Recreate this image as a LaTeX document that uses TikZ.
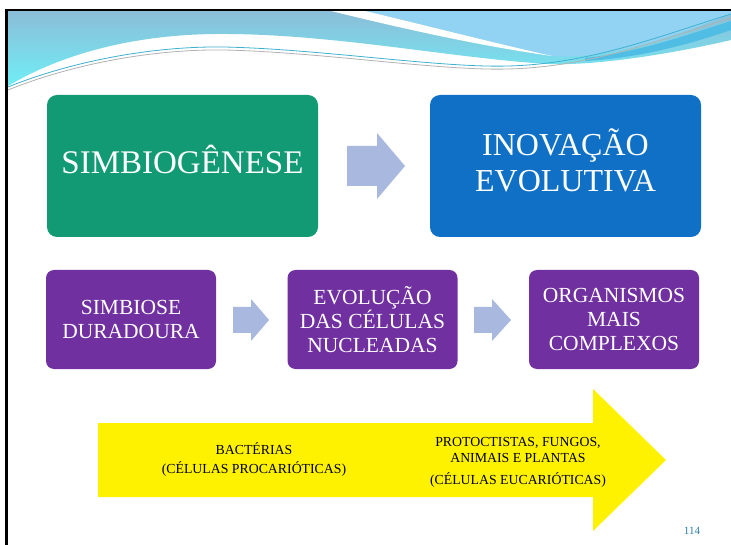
\documentclass[tikz,border=0pt]{standalone}
\usepackage{fontspec}
\setmainfont{Liberation Serif}
\definecolor{hdtop}{HTML}{8BBDD8}
\definecolor{hdbot}{HTML}{70EEF6}
\definecolor{hdlight}{HTML}{92D2F2}
\definecolor{hddark}{HTML}{4FBDE4}
\definecolor{boxgreen}{HTML}{119A73}
\definecolor{boxblue}{HTML}{1070C6}
\definecolor{boxpurple}{HTML}{7030A0}
\definecolor{arrowblue}{HTML}{A9B8DF}
\definecolor{pagenum}{HTML}{2E7FA8}
\begin{document}
\begin{tikzpicture}[x=1pt,y=-1pt,
  bigbox/.style={rounded corners=10pt, minimum width=271pt, minimum height=142pt,
    text=white, align=center, inner sep=0pt},
  smallbox/.style={rounded corners=8pt, fill=boxpurple, minimum width=170pt, minimum height=99pt,
    text=white, align=center, inner sep=0pt, font=\fontsize{21.5}{24}\selectfont},
  blockarrow/.style={fill=arrowblue, draw=none},
  yeltext/.style={align=center, inner sep=0pt, font=\fontsize{13.8}{16}\selectfont}]
\useasboundingbox (0,0) rectangle (731,545);
\fill[white] (0,0) rectangle (731,545);
% header
\shade[top color=hdtop, bottom color=hdbot] (8,11) -- (731,11) -- (731,40)
  .. controls (680,52) and (600,66) .. (548,64)
  .. controls (450,58) and (330,33) .. (215,34)
  .. controls (130,35) and (60,55) .. (8,86) -- cycle;
\fill[hdlight] (365,11) .. controls (420,24) and (490,42) .. (552,56)
  .. controls (600,60) and (660,42) .. (731,14) -- (731,11) -- cycle;
\fill[hddark] (585,58) .. controls (640,52) and (690,34) .. (731,21)
  -- (731,30) .. controls (690,44) and (640,58) .. (585,61) -- cycle;
\fill[white] (331,11) .. controls (400,28) and (480,46) .. (552,56)
  .. controls (490,42) and (420,24) .. (365,11) -- cycle;
\draw[color=hddark!80!teal, line width=0.8pt] (8,87) .. controls (70,62) and (150,46) .. (224,47)
  .. controls (320,49) and (440,68) .. (508,66) .. controls (590,64) and (660,36) .. (731,14);
\draw[color=gray!60, line width=0.8pt] (8,90) .. controls (70,65) and (150,49) .. (224,50)
  .. controls (320,52) and (440,71) .. (508,69) .. controls (590,67) and (660,40) .. (731,18);
% frame
\draw[line width=2.5pt] (731,10) -- (6.5,10) -- (6.5,545);
% top row
\node[bigbox, fill=boxgreen, font=\fontsize{33}{38}\selectfont, text height=22pt, text depth=6pt] (simb) at (182.5,166) {SIMBIOGÊNESE};
\node[bigbox, fill=boxblue, font=\fontsize{32}{36}\selectfont, text depth=11pt] (inov) at (565.5,166) {INOVAÇÃO\\EVOLUTIVA};
\fill[blockarrow] (347,146) -- (377,146) -- (377,133) -- (405,166) -- (377,199) -- (377,186) -- (347,186) -- cycle;
% second row
\node[smallbox] (sd) at (131,319.5) {SIMBIOSE\\DURADOURA};
\node[smallbox] (ev) at (372.5,319.5) {EVOLUÇÃO\\DAS CÉLULAS\\NUCLEADAS};
\node[smallbox] (org) at (614,319.5) {ORGANISMOS\\MAIS\\COMPLEXOS};
\fill[blockarrow] (233,307) -- (251,307) -- (251,299) -- (269,320) -- (251,341) -- (251,333) -- (233,333) -- cycle;
\fill[blockarrow] (474,307) -- (492,307) -- (492,299) -- (511,320) -- (492,341) -- (492,333) -- (474,333) -- cycle;
% yellow arrow
\fill[yellow] (98,423) -- (593,423) -- (593,389) -- (666,460) -- (593,531) -- (593,497) -- (98,497) -- cycle;
\node[yeltext, font=\fontsize{13.8}{19}\selectfont] (bact) at (254,460) {BACTÉRIAS\\(CÉLULAS PROCARIÓTICAS)};
\node[yeltext] (prot) at (518,462) {PROTOCTISTAS, FUNGOS,\\ANIMAIS E PLANTAS\\[6pt](CÉLULAS EUCARIÓTICAS)};
\node[text=pagenum, font=\fontsize{11}{12}\selectfont, inner sep=0pt] (pg) at (692,531) {114};
\end{tikzpicture}
\end{document}
